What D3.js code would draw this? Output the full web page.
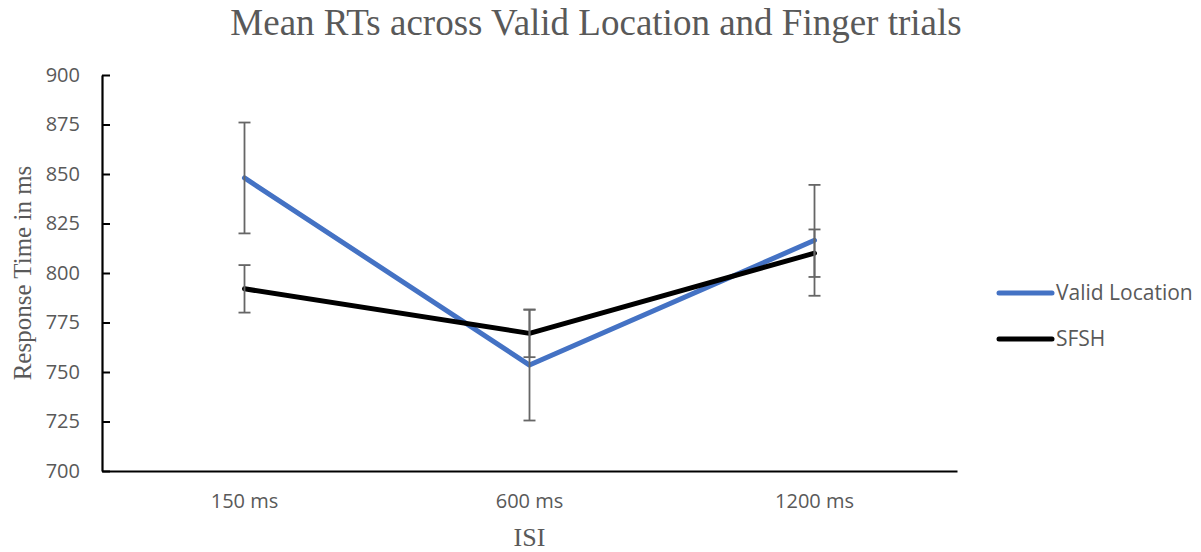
<!DOCTYPE html>
<html>
<head>
<meta charset="utf-8">
<script src="https://cdn.jsdelivr.net/npm/d3@7"></script>
<style>
  html, body { margin: 0; padding: 0; background: #fff; }
  svg { display: block; }
</style>
</head>
<body>
<svg id="chart" width="1201" height="552"></svg>
<script>
const categories = ["150 ms", "600 ms", "1200 ms"];
const seriesNames = ["Valid Location", "SFSH"];
const validLocation = [848, 753.5, 816.5];
const validLocationErr = [28, 28, 28];
const sfsh = [792, 769.5, 810];
const sfshErr = [12, 12, 12];
const yTicks = [700, 725, 750, 775, 800, 825, 850, 875, 900];
const seriesColors = ["#4472C4", "#000000"];

const svg = d3.select("#chart");
const margin = { left: 102, right: 244, top: 75, bottom: 81 };
const W = 1201, H = 552;

const x = d3.scaleBand().domain(categories).range([margin.left, W - margin.right]);
const y = d3.scaleLinear().domain([700, 900]).range([H - margin.bottom, margin.top]);

const grey = "#595959";
const sans = "'Open Sans', sans-serif";
const serif = "'Liberation Serif', 'Times New Roman', serif";

// title
svg.append("text")
  .attr("x", 596).attr("y", 35)
  .attr("text-anchor", "middle")
  .attr("font-family", serif).attr("font-size", 37)
  .attr("fill", grey)
  .text("Mean RTs across Valid Location and Finger trials");

// y axis
const yAxis = d3.axisLeft(y).tickValues(yTicks).tickSizeInner(-8).tickSizeOuter(0).tickPadding(22);
const gy = svg.append("g").attr("transform", `translate(${margin.left},0)`).call(yAxis);
gy.select(".domain").attr("stroke", "#000").attr("stroke-width", 2.2);
gy.selectAll(".tick line").attr("stroke", "#000").attr("stroke-width", 2);
gy.selectAll(".tick text").attr("font-family", sans).attr("font-size", 20).attr("fill", grey);

// x axis
const xAxis = d3.axisBottom(x).tickSize(0).tickPadding(23);
const gx = svg.append("g").attr("transform", `translate(0,${H - margin.bottom})`).call(xAxis);
gx.select(".domain").attr("stroke", "#000").attr("stroke-width", 2.2);
gx.selectAll(".tick text").attr("font-family", sans).attr("font-size", 20).attr("fill", grey).attr("dy", "0.71em");

// axis titles
svg.append("text")
  .attr("x", x("600 ms") + x.bandwidth() / 2).attr("y", 546)
  .attr("text-anchor", "middle")
  .attr("font-family", serif).attr("font-size", 26).attr("fill", grey)
  .text("ISI");
svg.append("text")
  .attr("transform", `translate(31,${(y(700) + y(900)) / 2}) rotate(-90)`)
  .attr("text-anchor", "middle")
  .attr("font-family", serif).attr("font-size", 25).attr("fill", grey)
  .text("Response Time in ms");

const cx = c => x(c) + x.bandwidth() / 2;
const series = [
  { name: seriesNames[0], values: validLocation, err: validLocationErr, color: seriesColors[0] },
  { name: seriesNames[1], values: sfsh, err: sfshErr, color: seriesColors[1] }
];

const line = d3.line().x((d, i) => cx(categories[i])).y(d => y(d));
series.forEach(s => {
  svg.append("path")
    .datum(s.values)
    .attr("d", line)
    .attr("fill", "none")
    .attr("stroke", s.color)
    .attr("stroke-width", 5)
    .attr("stroke-linejoin", "round")
    .attr("stroke-linecap", "round");
});

// error bars
series.forEach(s => {
  const g = svg.append("g");
  s.values.forEach((v, i) => {
    const xc = cx(categories[i]);
    const top = y(v + s.err[i]), bot = y(v - s.err[i]);
    g.append("line").attr("x1", xc).attr("x2", xc).attr("y1", top).attr("y2", bot)
      .attr("stroke", "#666").attr("stroke-width", 1.8);
    [top, bot].forEach(yy => {
      g.append("line").attr("x1", xc - 6).attr("x2", xc + 6).attr("y1", yy).attr("y2", yy)
        .attr("stroke", "#666").attr("stroke-width", 1.8);
    });
  });
});

// legend
const legend = svg.append("g");
series.forEach((s, i) => {
  const yy = 293 + i * 46;
  legend.append("line").attr("x1", 999).attr("x2", 1052).attr("y1", yy).attr("y2", yy)
    .attr("stroke", s.color).attr("stroke-width", 5).attr("stroke-linecap", "round");
  legend.append("text").attr("x", 1056).attr("y", yy).attr("dy", "0.35em")
    .attr("font-family", sans).attr("font-size", 21).attr("fill", grey)
    .text(s.name);
});
</script>
</body>
</html>
